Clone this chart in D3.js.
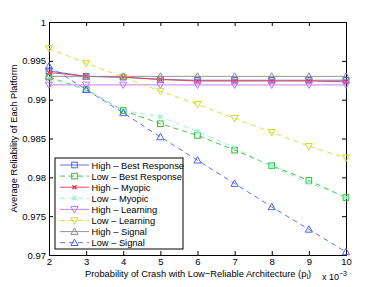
<!DOCTYPE html>
<html>
<head>
<meta charset="utf-8">
<script src="https://cdn.jsdelivr.net/npm/d3@7"></script>
<style>
  body { margin: 0; background: #fff; }
  svg text { font-family: "Liberation Sans", Arial, sans-serif; }
</style>
</head>
<body>
<div id="chart"></div>
<script>
// probability of crash, in units of 1e-3
var pl = [2, 3, 4, 5, 6, 7, 8, 9, 10];

var highBest   = [0.9937, 0.9930, 0.9929, 0.9926, 0.9925, 0.9925, 0.9925, 0.9925, 0.9925];
var lowBest    = [0.9929, 0.9913, 0.9886, 0.9869, 0.9854, 0.9835, 0.9815, 0.9796, 0.9774];
var highMyopic = [0.9935, 0.9930, 0.9929, 0.9926, 0.9924, 0.9924, 0.9924, 0.9924, 0.9923];
var lowMyopic  = [0.9928, 0.9913, 0.9886, 0.9878, 0.9859, 0.9838, 0.9814, 0.9793, 0.9774];
var highLearn  = [0.9919, 0.9919, 0.9919, 0.9919, 0.9919, 0.9919, 0.9919, 0.9919, 0.9919];
var lowLearn   = [0.9966, 0.9947, 0.9929, 0.9911, 0.9894, 0.9876, 0.9858, 0.9840, 0.9825];
var highSignal = [0.9930, 0.9930, 0.9930, 0.9930, 0.9930, 0.9930, 0.9930, 0.9930, 0.9930];
var lowSignal  = [0.9943, 0.9913, 0.9883, 0.9852, 0.9822, 0.9792, 0.9762, 0.9733, 0.9704];

var xTicks = [2, 3, 4, 5, 6, 7, 8, 9, 10];
var yTicks = [0.97, 0.975, 0.98, 0.985, 0.99, 0.995, 1];

var series = [
  {name: 'High \u2013 Best Response', values: highBest,   color: '#4f63d8', dash: null, marker: 'square'},
  {name: 'Low \u2013 Best Response',  values: lowBest,    color: '#33b833', dash: '5,4', marker: 'square'},
  {name: 'High \u2013 Myopic',        values: highMyopic, color: '#f0344c', dash: null, marker: 'cross'},
  {name: 'Low \u2013 Myopic',         values: lowMyopic,  color: '#8af5cf', dash: '5,4', marker: 'cross'},
  {name: 'High \u2013 Learning',      values: highLearn,  color: '#c070f8', dash: null, marker: 'tridown'},
  {name: 'Low \u2013 Learning',       values: lowLearn,   color: '#cfdc2e', dash: '5,4', marker: 'tridown'},
  {name: 'High \u2013 Signal',        values: highSignal, color: '#8a8a8a', dash: null, marker: 'triup'},
  {name: 'Low \u2013 Signal',         values: lowSignal,  color: '#4e62ea', dash: '5,4', marker: 'triup'}
];

var W = 382, H = 287;
var m = {left: 49, right: 36, top: 22, bottom: 32};

var svg = d3.select('#chart').append('svg').attr('width', W).attr('height', H);

var x = d3.scaleLinear().domain([2, 10]).range([m.left, W - m.right]);
var y = d3.scaleLinear().domain([0.97, 1]).range([H - m.bottom, m.top]);

// axes with inward ticks on all four sides
var ax = svg.append('g');
ax.append('g').attr('transform', 'translate(0,' + y(0.97) + ')')
  .call(d3.axisBottom(x).tickValues(xTicks).tickSize(-4).tickPadding(3).tickFormat(d3.format('d')));
ax.append('g').attr('transform', 'translate(0,' + y(1) + ')')
  .call(d3.axisTop(x).tickValues(xTicks).tickSize(-4).tickFormat(''));
ax.append('g').attr('transform', 'translate(' + x(2) + ',0)')
  .call(d3.axisLeft(y).tickValues(yTicks).tickSize(-4).tickPadding(3).tickFormat(function(d) { return d3.format('')(+d.toFixed(3)); }));
ax.append('g').attr('transform', 'translate(' + x(10) + ',0)')
  .call(d3.axisRight(y).tickValues(yTicks).tickSize(-4).tickFormat(''));
ax.selectAll('.domain').attr('stroke', '#000').attr('stroke-width', 1);
ax.selectAll('.tick line').attr('stroke', '#000');
ax.selectAll('text').attr('font-size', 9.5).attr('fill', '#000');

function marker(g, type, cx, cy, color) {
  var s = 2.8;
  if (type === 'square') {
    g.append('rect').attr('x', cx - s).attr('y', cy - s).attr('width', 2 * s).attr('height', 2 * s)
      .attr('fill', 'none').attr('stroke', color);
  } else if (type === 'cross') {
    g.append('path').attr('d', 'M' + (cx - 2) + ',' + (cy - 2) + 'L' + (cx + 2) + ',' + (cy + 2) +
      'M' + (cx - 2) + ',' + (cy + 2) + 'L' + (cx + 2) + ',' + (cy - 2))
      .attr('stroke', color).attr('stroke-width', 1.4).attr('fill', 'none');
  } else if (type === 'tridown') {
    g.append('path').attr('d', 'M' + (cx - 3.6) + ',' + (cy - 2.8) + 'L' + (cx + 3.6) + ',' + (cy - 2.8) + 'L' + cx + ',' + (cy + 3.6) + 'Z')
      .attr('fill', 'none').attr('stroke', color);
  } else {
    g.append('path').attr('d', 'M' + (cx - 3.6) + ',' + (cy + 2.8) + 'L' + (cx + 3.6) + ',' + (cy + 2.8) + 'L' + cx + ',' + (cy - 3.6) + 'Z')
      .attr('fill', 'none').attr('stroke', color);
  }
}

var line = d3.line().x(function(d, i) { return x(pl[i]); }).y(function(d) { return y(d); });

var plot = svg.append('g');
series.forEach(function(s) {
  plot.append('path').datum(s.values).attr('d', line)
    .attr('fill', 'none').attr('stroke', s.color).attr('stroke-width', 0.9)
    .attr('stroke-dasharray', s.dash);
  s.values.forEach(function(v, i) { marker(plot, s.marker, x(pl[i]), y(v), s.color); });
});

// legend
var lg = svg.append('g').attr('transform', 'translate(55,158)');
lg.append('rect').attr('width', 128).attr('height', 91).attr('fill', '#fff').attr('stroke', '#000');
series.forEach(function(s, i) {
  var cy = 7 + i * 11.1;
  lg.append('line').attr('x1', 5).attr('x2', 34).attr('y1', cy).attr('y2', cy)
    .attr('stroke', s.color).attr('stroke-width', 0.9).attr('stroke-dasharray', s.dash);
  marker(lg, s.marker, 19.5, cy, s.color);
  lg.append('text').attr('x', 36.5).attr('y', cy + 3.5).attr('font-size', 9.3).text(s.name);
});

// labels
svg.append('text').attr('transform', 'translate(17,' + ((m.top + H - m.bottom) / 2) + ') rotate(-90)')
  .attr('text-anchor', 'middle').attr('font-size', 9.3).text('Average Reliability of Each Platform');
var xl = svg.append('text').attr('x', 198).attr('y', 277).attr('text-anchor', 'middle').attr('font-size', 9.3);
xl.append('tspan').text('Probability of Crash with Low\u2212Reliable Architecture (p');
xl.append('tspan').attr('font-size', 7).attr('dy', 2).text('l');
xl.append('tspan').attr('dy', -2).text(')');
var ex = svg.append('text').attr('x', 322).attr('y', 280).attr('font-size', 9);
ex.append('tspan').text('x 10');
ex.append('tspan').attr('font-size', 7).attr('dy', -4).text('\u22123');
</script>
</body>
</html>
